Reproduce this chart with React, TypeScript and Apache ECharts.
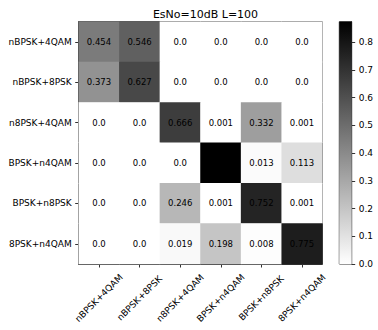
import React, { useEffect, useRef } from "react";
import * as echarts from "echarts";

const classes = ["nBPSK+4QAM", "nBPSK+8PSK", "n8PSK+4QAM", "BPSK+n4QAM", "BPSK+n8PSK", "8PSK+n4QAM"];
const row0 = [0.454, 0.546, 0.0, 0.0, 0.0, 0.0];
const row1 = [0.373, 0.627, 0.0, 0.0, 0.0, 0.0];
const row2 = [0.0, 0.0, 0.666, 0.001, 0.332, 0.001];
const row3 = [0.0, 0.0, 0.0, 0.874, 0.013, 0.113];
const row4 = [0.0, 0.0, 0.246, 0.001, 0.752, 0.001];
const row5 = [0.0, 0.0, 0.019, 0.198, 0.008, 0.775];
const matrix = [row0, row1, row2, row3, row4, row5];
const colorMin = 0;
const colorMax = 0.874;
const colorbarTicks = [0, 0.1, 0.2, 0.3, 0.4, 0.5, 0.6, 0.7, 0.8];
const titleText = "EsNo=10dB L=100";

const FONT = "DejaVu Sans";

export default function App() {
  const ref = useRef<HTMLDivElement>(null);
  useEffect(() => {
    if (!ref.current) return;
    const chart = echarts.init(ref.current, null, { renderer: "svg" });
    const data: [number, number, number][] = [];
    matrix.forEach((row, r) => row.forEach((v, c) => data.push([c, r, v])));
    const gL = 78.7, gT = 21.7, gW = 243.6, gH = 242.3;
    const cbL = 339.3, cbW = 12.4;
    chart.setOption({
      animation: false,
      backgroundColor: "#ffffff",
      title: {
        text: titleText,
        left: gL + gW / 2,
        textAlign: "center",
        top: 4,
        textStyle: { fontFamily: FONT, fontSize: 11, fontWeight: "normal", color: "#000" },
      },
      grid: [
        { left: gL, top: gT, width: gW, height: gH, show: true, borderColor: "#333", borderWidth: 1, backgroundColor: "transparent" },
        { left: cbL, top: gT, width: cbW, height: gH, show: true, borderColor: "#333", borderWidth: 1, backgroundColor: "transparent" },
      ],
      xAxis: [
        {
          type: "category",
          gridIndex: 0,
          data: classes,
          axisLine: { show: true, lineStyle: { color: "#333", width: 1 } },
          axisTick: { show: true, alignWithLabel: true, length: 3.5, lineStyle: { color: "#333" } },
          axisLabel: {
            rotate: 45,
            align: "center",
            verticalAlign: "middle",
            margin: 34,
            fontFamily: FONT,
            fontSize: 9,
            color: "#000",
            interval: 0,
          },
          splitLine: { show: false },
        },
        {
          type: "category",
          gridIndex: 1,
          data: ["cb"],
          show: false,
        },
      ],
      yAxis: [
        {
          type: "category",
          gridIndex: 0,
          data: classes,
          inverse: true,
          axisLine: { show: true, lineStyle: { color: "#333", width: 1 } },
          axisTick: { show: true, alignWithLabel: true, length: 3.5, lineStyle: { color: "#333" } },
          axisLabel: { margin: 7, fontFamily: FONT, fontSize: 9, color: "#000", interval: 0 },
          splitLine: { show: false },
        },
        {
          type: "value",
          gridIndex: 1,
          position: "right",
          min: colorMin,
          max: colorMax,
          axisLine: { show: true, lineStyle: { color: "#333", width: 1 } },
          axisTick: { show: true, length: 3.5, lineStyle: { color: "#333" }, customValues: colorbarTicks },
          axisLabel: {
            margin: 7,
            fontFamily: FONT,
            fontSize: 9,
            color: "#000",
            customValues: colorbarTicks,
            formatter: (v: number) => v.toFixed(1),
          },
          splitLine: { show: false },
        },
      ],
      visualMap: {
        show: false,
        seriesIndex: 0,
        min: colorMin,
        max: colorMax,
        dimension: 2,
        inRange: { color: ["#ffffff", "#000000"] },
      },
      series: [
        {
          type: "heatmap",
          xAxisIndex: 0,
          yAxisIndex: 0,
          data,
          label: {
            show: true,
            fontFamily: FONT,
            fontSize: 8.5,
            color: "#000",
            formatter: (p: any) => {
              const v = p.value[2] as number;
              return v === 0 ? "0.0" : String(v);
            },
          },
          itemStyle: { borderWidth: 0 },
          emphasis: { disabled: true },
        },
        {
          type: "bar",
          xAxisIndex: 1,
          yAxisIndex: 1,
          data: [colorMax],
          barWidth: "100%",
          itemStyle: {
            color: new echarts.graphic.LinearGradient(0, 0, 0, 1, [
              { offset: 0, color: "#000000" },
              { offset: 1, color: "#ffffff" },
            ]),
          },
          silent: true,
        },
      ],
    });
    return () => chart.dispose();
  }, []);
  return (
    <div
      ref={ref}
      style={{ position: "fixed", left: 0, top: 0, width: 378, height: 330 }}
    />
  );
}
